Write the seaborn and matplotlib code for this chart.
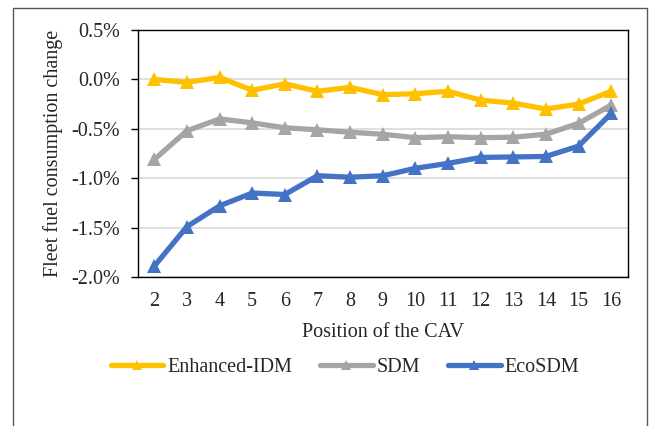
import matplotlib
matplotlib.use("Agg")
import matplotlib.pyplot as plt
import matplotlib.ticker as mticker
from matplotlib.lines import Line2D
import seaborn as sns
import pandas as pd

positions = list(range(2, 17))
enhanced_idm = [0.00, -0.03, 0.02, -0.11, -0.045, -0.12, -0.08, -0.155, -0.145, -0.12, -0.21, -0.24, -0.30, -0.25, -0.12]
sdm = [-0.81, -0.52, -0.40, -0.44, -0.49, -0.51, -0.535, -0.555, -0.59, -0.58, -0.59, -0.585, -0.555, -0.445, -0.26]
ecosdm = [-1.89, -1.49, -1.28, -1.15, -1.165, -0.975, -0.99, -0.975, -0.90, -0.85, -0.79, -0.785, -0.78, -0.675, -0.345]
series_names = ["Enhanced-IDM", "SDM", "EcoSDM"]
colors = ["#FFC000", "#A5A5A5", "#4472C4"]

rows = []
for name, vals in zip(series_names, [enhanced_idm, sdm, ecosdm]):
    for p, v in zip(positions, vals):
        rows.append({"Position": p, "Change": v, "Series": name})
df = pd.DataFrame(rows)

sns.set_style("white")
plt.rcParams["font.family"] = ["Liberation Serif", "DejaVu Serif"]
FS = 14.5

fig = plt.figure(figsize=(6.52, 4.26), dpi=100)
ax = fig.add_axes([138/652, 1-277/426, (627.5-138)/652, (277-30)/426])

sns.lineplot(data=df, x="Position", y="Change", hue="Series", hue_order=series_names,
             palette=colors, marker="^", markersize=10.5, markeredgewidth=0,
             linewidth=3.8, ax=ax, legend=False, zorder=3)

ax.set_xlim(1.5, 16.5)
ax.set_ylim(-2.0, 0.5)
ax.set_xticks(positions)
ax.set_xticklabels([str(p) for p in positions])
ax.set_yticks([0.5, 0.0, -0.5, -1.0, -1.5, -2.0])
ax.yaxis.set_major_formatter(mticker.FuncFormatter(lambda v, _: f"{v:.1f}%"))
ax.grid(axis="y", color="#D9D9D9", linewidth=1.2, zorder=0)
ax.set_axisbelow(True)
for s in ax.spines.values():
    s.set_color("black")
    s.set_linewidth(1.0)
ax.tick_params(axis="y", which="both", left=True, length=5, width=1, color="black",
               labelsize=FS, pad=8)
ax.tick_params(axis="x", bottom=False, labelsize=FS, pad=7)
ax.set_xlabel("Position of the CAV", fontsize=FS, labelpad=9)
ax.set_ylabel("Fleet fuel consumption change", fontsize=FS, labelpad=6)

handles = [Line2D([0], [0], color=c, linewidth=3.8, marker="^", markersize=7.5,
                  markeredgewidth=0) for c in colors]
fig.legend(handles, series_names, loc="center", bbox_to_anchor=(345/652, 1-367/426),
           ncol=3, frameon=False, fontsize=FS, handlelength=2.6,
           handletextpad=0.2, columnspacing=1.4)

border = plt.Rectangle((13/652, -0.2), (647-13)/652, 1.2 - 8/426, transform=fig.transFigure,
                       fill=False, edgecolor="#595959", linewidth=1.0, clip_on=False)
fig.patches.append(border)

fig.savefig("out.png", dpi=100)
